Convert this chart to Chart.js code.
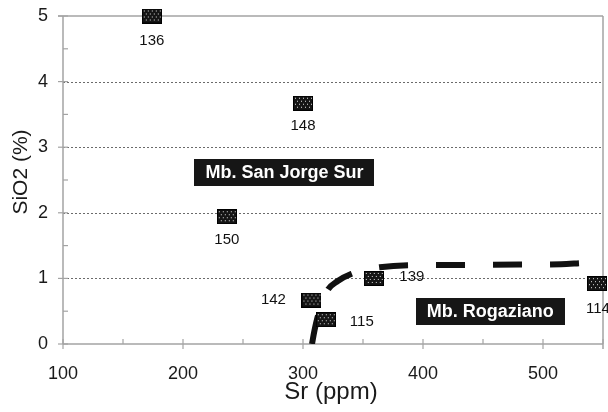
<!DOCTYPE html>
<html><head><meta charset="utf-8">
<script src="https://cdn.jsdelivr.net/npm/chart.js@4.4.0/dist/chart.umd.min.js"></script>
<style>html,body{margin:0;padding:0;background:#fff;}#c{display:block}</style>
</head><body>
<canvas id="c" width="608" height="412"></canvas>
<script>
// ---- data ----
const sampleIds  = ['136', '148', '150', '142', '115', '139', '114'];
const srValues   = [174, 300, 236.5, 307, 319, 359, 545];
const sio2Values = [5.0, 3.67, 1.94, 0.67, 0.37, 1.0, 0.92];

const trendSr   = [307.5, 309.5, 312, 315.5, 320.5, 329, 340.5, 352, 364, 388, 430, 480, 515, 535, 550];
const trendSiO2 = [0, 0.2, 0.4, 0.6, 0.82, 0.96, 1.07, 1.13, 1.17, 1.2, 1.205, 1.21, 1.215, 1.235, 1.24];

const xTickLabels = ['100', '200', '300', '400', '500'];
const yTickLabels = ['0', '1', '2', '3', '4', '5'];
const groupNames  = ['Mb. San Jorge Sur', 'Mb. Rogaziano'];

// ---- layout / style (not data) ----
const groupAnchors = [[284.5, 2.615], [456, 0.495]];   // box centres in axis units
const labelOffsets = [[0, 25], [0, 23], [0, 23], [-38, 0], [36, 2], [38, -2], [1, 25]];
const FONT = "'Liberation Sans', Arial, sans-serif";
const AXIS_GRAY = '#a3a3a3';

function makeMarker() {
  const c = document.createElement('canvas');
  c.width = 20; c.height = 15;
  const g = c.getContext('2d');
  g.fillStyle = '#151515';
  g.fillRect(0, 0, 20, 15);
  g.fillStyle = '#e0e0e0';
  let row = 0;
  for (let y = 2; y < 14; y += 3, row++) {
    for (let x = 2 + (row % 2) * 2; x < 19; x += 4) {
      g.fillRect(x, y, 1, 1);
    }
  }
  g.strokeStyle = '#000';
  g.lineWidth = 1;
  g.strokeRect(0.5, 0.5, 19, 14);
  return c;
}
const marker = makeMarker();

const framePlugin = {
  id: 'frame',
  beforeDatasetsDraw(chart) {
    const {ctx, chartArea: a, scales: {x, y}} = chart;
    ctx.save();
    ctx.strokeStyle = '#6a6a6a';
    ctx.lineWidth = 1;
    ctx.setLineDash([2, 2]);
    for (let v = 1; v <= 4; v++) {
      const py = Math.round(y.getPixelForValue(v)) + 0.5;
      ctx.beginPath(); ctx.moveTo(a.left, py); ctx.lineTo(a.right, py); ctx.stroke();
    }
    ctx.setLineDash([]);
    ctx.strokeStyle = AXIS_GRAY;
    ctx.lineWidth = 1.5;
    const topY = y.getPixelForValue(5);
    ctx.beginPath(); ctx.moveTo(a.left - 5, topY); ctx.lineTo(a.right, topY); ctx.stroke();
    ctx.beginPath(); ctx.moveTo(a.right, a.top); ctx.lineTo(a.right, a.bottom + 5); ctx.stroke();
    ctx.beginPath(); ctx.moveTo(a.left, a.top); ctx.lineTo(a.left, a.bottom); ctx.stroke();
    ctx.beginPath(); ctx.moveTo(a.left, a.bottom); ctx.lineTo(a.right, a.bottom); ctx.stroke();
    ctx.lineWidth = 1.2;
    for (let v = 0; v <= 5.001; v += 0.5) {
      const py = y.getPixelForValue(v);
      const major = Math.abs(v - Math.round(v)) < 1e-6;
      ctx.beginPath(); ctx.moveTo(major ? a.left - 5 : a.left, py); ctx.lineTo(a.left + 5, py); ctx.stroke();
    }
    for (let v = 100; v <= 550.001; v += 50) {
      const px = x.getPixelForValue(v);
      const major = v % 100 === 0;
      ctx.beginPath(); ctx.moveTo(px, a.bottom - 5); ctx.lineTo(px, major ? a.bottom + 5 : a.bottom); ctx.stroke();
    }
    ctx.restore();
  },
  afterDraw(chart) {
    const {ctx, chartArea: a, scales: {x, y}} = chart;
    ctx.save();
    const meta = chart.getDatasetMeta(0);
    ctx.font = '15px ' + FONT;
    ctx.fillStyle = '#111';
    ctx.textAlign = 'center';
    ctx.textBaseline = 'middle';
    meta.data.forEach((pt, i) => {
      const o = labelOffsets[i];
      ctx.fillText(sampleIds[i], pt.x + o[0], pt.y + o[1]);
    });
    ctx.font = 'bold 18px ' + FONT;
    groupNames.forEach((name, i) => {
      const cx = x.getPixelForValue(groupAnchors[i][0]);
      const cy = y.getPixelForValue(groupAnchors[i][1]);
      const w = ctx.measureText(name).width + 22;
      const h = 27;
      ctx.fillStyle = '#161616';
      ctx.fillRect(Math.round(cx - w / 2), Math.round(cy - h / 2), Math.round(w), h);
      ctx.fillStyle = '#fff';
      ctx.fillText(name, cx, cy + 1);
    });
    ctx.fillStyle = '#1a1a1a';
    ctx.font = '24px ' + FONT;
    ctx.textBaseline = 'alphabetic';
    ctx.fillText('Sr (ppm)', (a.left + a.right) / 2 - 2, 399);
    ctx.translate(27, 172);
    ctx.rotate(-Math.PI / 2);
    ctx.font = '21px ' + FONT;
    ctx.fillText('SiO2 (%)', 0, 0);
    ctx.restore();
  }
};

new Chart(document.getElementById('c'), {
  type: 'scatter',
  data: {
    datasets: [
      {
        label: 'samples',
        data: srValues.map((v, i) => ({x: v, y: sio2Values[i]})),
        pointStyle: marker,
        pointRadius: 10,
        clip: false,
        showLine: false
      },
      {
        label: 'trend',
        type: 'line',
        data: trendSr.map((v, i) => ({x: v, y: trendSiO2[i]})),
        borderColor: '#111',
        borderWidth: 6,
        borderDash: [29, 28],
        borderCapStyle: 'butt',
        cubicInterpolationMode: 'monotone',
        pointRadius: 0,
        fill: false
      }
    ]
  },
  options: {
    responsive: false,
    animation: false,
    devicePixelRatio: 1,
    layout: {autoPadding: false, padding: {left: 0, right: 5, top: 16, bottom: 0}},
    plugins: {legend: {display: false}, tooltip: {enabled: false}},
    scales: {
      x: {
        type: 'linear', min: 100, max: 550,
        afterFit(s) { s.height = 68; s.paddingLeft = 0; s.paddingRight = 0; },
        grid: {display: false, drawTicks: false},
        border: {display: false},
        ticks: {
          stepSize: 100, includeBounds: false, padding: 19, maxRotation: 0,
          font: {family: FONT, size: 18}, color: '#1a1a1a',
          callback: (v) => xTickLabels[Math.round((v - 100) / 100)] ?? ''
        }
      },
      y: {
        type: 'linear', min: 0, max: 5,
        afterFit(s) { s.width = 63; s.paddingTop = 0; s.paddingBottom = 0; },
        grid: {display: false, drawTicks: false},
        border: {display: false},
        ticks: {
          stepSize: 1, padding: 15,
          font: {family: FONT, size: 18}, color: '#1a1a1a',
          callback: (v) => yTickLabels[Math.round(v)] ?? ''
        }
      }
    }
  },
  plugins: [framePlugin]
});
</script>
</body></html>
